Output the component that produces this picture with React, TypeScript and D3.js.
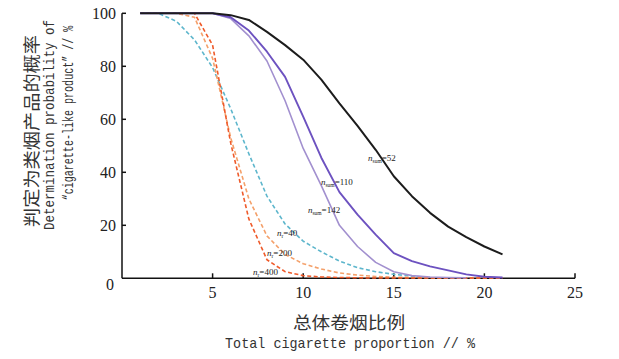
import React from "react";
import * as d3 from "d3";

const xs = d3.range(1, 22);
const sum52 = [100,100,100,100,100,99.3,97.5,93,88,82.5,75,66,57.5,48.5,38.5,31,24.7,19.5,15.5,12,9];
const sum110 = [100,100,100,100,100,98.5,93.5,85.5,76,61,45.5,32.5,24,16.5,9.5,6.5,4.5,3,1.5,0.6,0.3];
const sum142 = [100,100,100,100,100,98,91.5,82,67,49,35,20,12,6,2.5,1,0.5,0.3,0.2];
const r40 = [100,100,97,90,79.5,64,47,31,20.5,14,10,6.5,4,2.5,1.5,0.8,0.4];
const r200 = [100,100,100,98.5,83,53,30,16,9,5.5,3.5,2,1.2,0.7,0.4,0.3,0.2,0.1,0.1,0.1,0.1];
const r400 = [100,100,100,100,88,51,22.4,7,2.5,1,0.5,0.3,0.2,0.1,0.1,0.1,0.1,0.1,0.1,0.1,0.1];

const xTicks = [5, 10, 15, 20, 25];
const yTicks = [20, 40, 60, 80, 100];

const seriesList = [
  { key: "r40", values: r40, color: "#5db6cc", dash: "4,2.5", width: 1.6, sub: "r", num: "40", lx: 8.55, ly: 16 },
  { key: "r200", values: r200, color: "#f4a06a", dash: "4,2.5", width: 1.6, sub: "r", num: "200", lx: 8.0, ly: 8.6 },
  { key: "r400", values: r400, color: "#ef5a2a", dash: "4,2.5", width: 1.6, sub: "r", num: "400", lx: 7.23, ly: 1.4 },
  { key: "s142", values: sum142, color: "#a290cf", dash: null, width: 1.6, sub: "sum", num: "142", lx: 10.26, ly: 24.6 },
  { key: "s110", values: sum110, color: "#6d52c0", dash: null, width: 1.9, sub: "sum", num: "110", lx: 10.98, ly: 35.2 },
  { key: "s52", values: sum52, color: "#1c1c1c", dash: null, width: 2, sub: "sum", num: "52", lx: 13.58, ly: 44.3 },
];

export default function App() {
  const x = d3.scaleLinear().domain([0, 25]).range([122, 575]);
  const y = d3.scaleLinear().domain([0, 100]).range([278.3, 13.3]);
  const line = d3
    .line<[number, number]>()
    .x((d) => x(d[0]))
    .y((d) => y(d[1]))
    .curve(d3.curveLinear);

  const serif = "'Liberation Serif', 'DejaVu Serif', serif";
  const mono = "'Liberation Mono', 'DejaVu Sans Mono', monospace";
  const cjk = "'Noto Sans CJK SC', sans-serif";

  return (
    <svg
      width={619}
      height={359}
      style={{ position: "fixed", left: 0, top: 0, background: "#fff" }}
    >
      <rect x={0} y={0} width={619} height={359} fill="#fff" />
      {/* axes */}
      <line x1={x(0)} x2={x(0)} y1={y(100)} y2={y(0)} stroke="#111" strokeWidth={1.5} />
      <line x1={x(0)} x2={x(25)} y1={y(0)} y2={y(0)} stroke="#111" strokeWidth={1.5} />
      {yTicks.map((t) => (
        <g key={"yt" + t}>
          <line x1={x(0)} x2={x(0) + 4} y1={y(t)} y2={y(t)} stroke="#111" strokeWidth={1.5} />
          <text x={x(0) - 6} y={y(t)} dy="0.35em" textAnchor="end" fontFamily={serif} fontSize={16} fill="#222">
            {t}
          </text>
        </g>
      ))}
      <text x={x(0) - 12} y={y(0) + 6} dy="0.35em" textAnchor="middle" fontFamily={serif} fontSize={16} fill="#222">
        0
      </text>
      {xTicks.map((t) => (
        <g key={"xt" + t}>
          <line x1={x(t)} x2={x(t)} y1={y(0)} y2={y(0) - 5} stroke="#111" strokeWidth={1.5} />
          <text x={x(t)} y={y(0) + 14} dy="0.35em" textAnchor="middle" fontFamily={serif} fontSize={16} fill="#222">
            {t}
          </text>
        </g>
      ))}

      {/* series */}
      {seriesList.map((s) => (
        <path
          key={s.key}
          d={line(s.values.map((v, i) => [xs[i], v] as [number, number])) || ""}
          fill="none"
          stroke={s.color}
          strokeWidth={s.width}
          strokeDasharray={s.dash || undefined}
          strokeLinejoin="round"
        />
      ))}

      {/* series labels */}
      {seriesList.map((s) => (
        <text key={"lb" + s.key} x={x(s.lx)} y={y(s.ly)} fontFamily={serif} fontSize={9} fill="#222">
          <tspan fontStyle="italic">n</tspan>
          <tspan fontSize={5.5} dy={2}>{s.sub}</tspan>
          <tspan dy={-2}>={s.num}</tspan>
        </text>
      ))}

      {/* y title */}
      <text
        transform={`translate(31,131) rotate(-90) scale(1.13,1)`}
        textAnchor="middle"
        dominantBaseline="central"
        fontFamily={cjk}
        fontSize={17}
        fill="#333"
      >
        判定为类烟产品的概率
      </text>
      <text
        transform={`translate(50,125) rotate(-90) scale(0.833,1)`}
        textAnchor="middle"
        dominantBaseline="central"
        fontFamily={mono}
        fontSize={15}
        fill="#333"
      >
        Determination probability of
      </text>
      <text
        transform={`translate(69,113) rotate(-90) scale(0.67,1)`}
        textAnchor="middle"
        dominantBaseline="central"
        fontFamily={mono}
        fontSize={15}
        fill="#333"
      >
        “cigarette-like product” // %
      </text>

      {/* x title */}
      <text
        transform={`translate(349,329) scale(1.1,1)`}
        textAnchor="middle"
        fontFamily={cjk}
        fontSize={17}
        fill="#333"
      >
        总体卷烟比例
      </text>
      <text
        transform={`translate(350,348) scale(0.896,1)`}
        textAnchor="middle"
        fontFamily={mono}
        fontSize={15}
        fill="#333"
      >
        Total cigarette proportion // %
      </text>
    </svg>
  );
}
